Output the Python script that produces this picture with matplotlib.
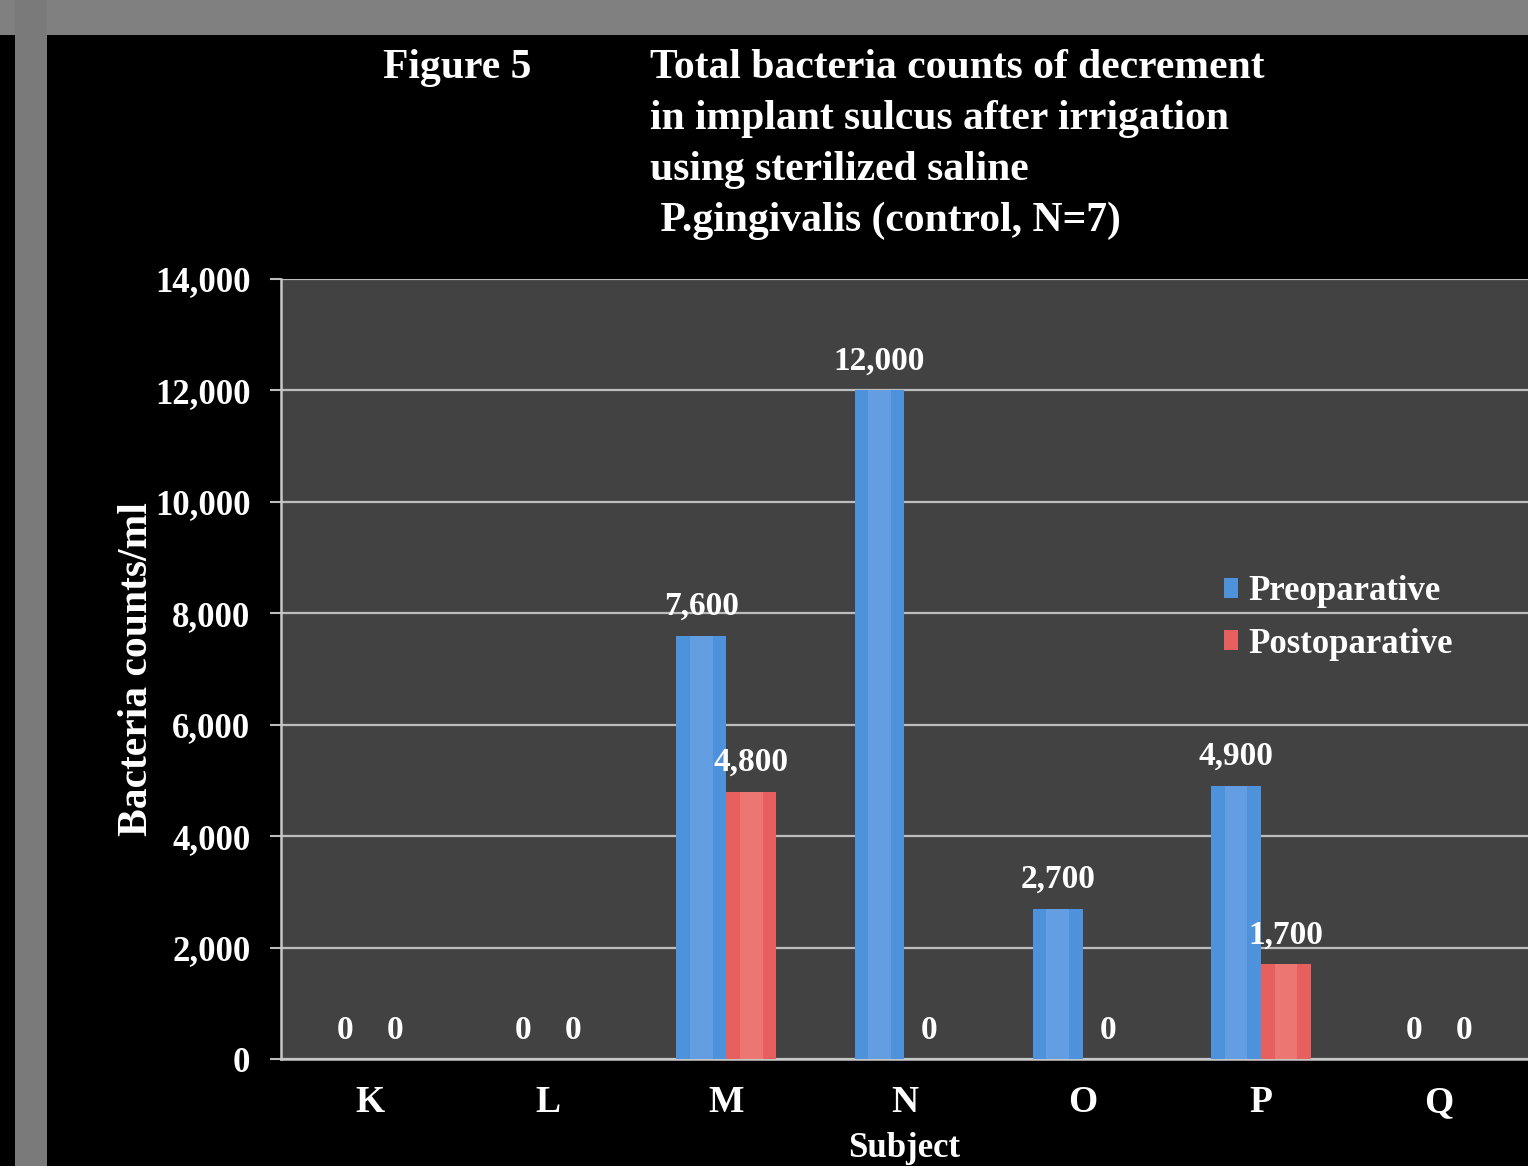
import numpy as np
import matplotlib.pyplot as plt
from matplotlib.patches import Rectangle

subjects = ["K", "L", "M", "N", "O", "P", "Q"]
preoperative = [0, 0, 7600, 12000, 2700, 4900, 0]
postoperative = [0, 0, 4800, 0, 0, 1700, 0]
yticks = [0, 2000, 4000, 6000, 8000, 10000, 12000, 14000]

plt.rcParams['font.family'] = ['Liberation Serif', 'DejaVu Serif']
plt.rcParams['font.weight'] = 'bold'

fig = plt.figure(figsize=(15.28, 11.66), dpi=100, facecolor='black')

# slide frame: grey band on top and a grey strip on the left
fig.patches.append(Rectangle((0, 1 - 35 / 1166), 1, 35 / 1166, transform=fig.transFigure,
                             facecolor='#808080', edgecolor='none', zorder=0))
fig.patches.append(Rectangle((15 / 1528, 0), 32 / 1528, 1, transform=fig.transFigure,
                             facecolor='#7a7a7a', edgecolor='none', zorder=0))

ax = fig.add_axes([281 / 1528, 107 / 1166, 1247 / 1528, 780 / 1166])
ax.set_facecolor('#424242')

x = np.arange(len(subjects))
w = 0.28
blue = '#4f92dc'
red = '#e8605e'
b1 = ax.bar(x - w / 2, preoperative, w, color=blue, zorder=3, label='Preoparative')
b2 = ax.bar(x + w / 2, postoperative, w, color=red, zorder=3, label='Postoparative')

# lighter centre stripe to give the bars a rounded look
ax.bar(x - w / 2, preoperative, w * 0.45, color='#7fb2ea', alpha=0.4, zorder=4, linewidth=0)
ax.bar(x + w / 2, postoperative, w * 0.45, color='#f49a92', alpha=0.4, zorder=4, linewidth=0)

for bars, vals in ((b1, preoperative), (b2, postoperative)):
    for rect, v in zip(bars, vals):
        cx = rect.get_x() + rect.get_width() / 2
        y = v + 250 if v > 0 else 230
        ax.text(cx, y, f"{v:,}", ha='center', va='bottom', color='white',
                fontsize=24, fontweight='bold', zorder=5)

ax.set_xlim(-0.5, 6.5)
ax.set_ylim(0, 14000)
ax.set_yticks(yticks)
ax.set_yticklabels([f"{t:,}" for t in yticks])
ax.set_xticks(x)
ax.set_xticklabels(subjects)
ax.yaxis.grid(True, color='#bdbdbd', linewidth=1.6, zorder=1)
ax.set_axisbelow(True)

ax.tick_params(axis='y', colors='#bdbdbd', labelcolor='white', labelsize=25, length=8, width=1.5, pad=14)
ax.tick_params(axis='x', length=0, labelcolor='white', labelsize=27, pad=19)
for s in ('top', 'right'):
    ax.spines[s].set_visible(False)
for s in ('left', 'bottom'):
    ax.spines[s].set_color('#c8c8c8')
    ax.spines[s].set_linewidth(1.8)

ax.set_ylabel('Bacteria counts/ml', color='white', fontsize=30, fontweight='bold', labelpad=-1)

# axis title sits right at the bottom edge of the slide
fig.text((281 + 1247 * 0.5) / 1528, 1 / 1166, 'Subject', color='white', fontsize=25,
         fontweight='bold', ha='center', va='bottom')

leg = ax.legend(loc='upper left', bbox_to_anchor=(0.731, 0.66), frameon=False,
                fontsize=25, handlelength=0.4, handleheight=0.5, handletextpad=0.3,
                labelspacing=0.55, labelcolor='white')

# heading
fig.text(383 / 1528, 1 - 68 / 1166, 'Figure 5', color='white', fontsize=30,
         fontweight='bold', va='center', ha='left')
title_lines = ["Total bacteria counts of decrement",
               "in implant sulcus after irrigation",
               "using sterilized saline",
               " P.gingivalis (control, N=7)"]
for i, line in enumerate(title_lines):
    fig.text(650 / 1528, 1 - (68 + 51 * i) / 1166, line, color='white', fontsize=30,
             fontweight='bold', va='center', ha='left')

fig.savefig('out.png', dpi=100, facecolor=fig.get_facecolor())
